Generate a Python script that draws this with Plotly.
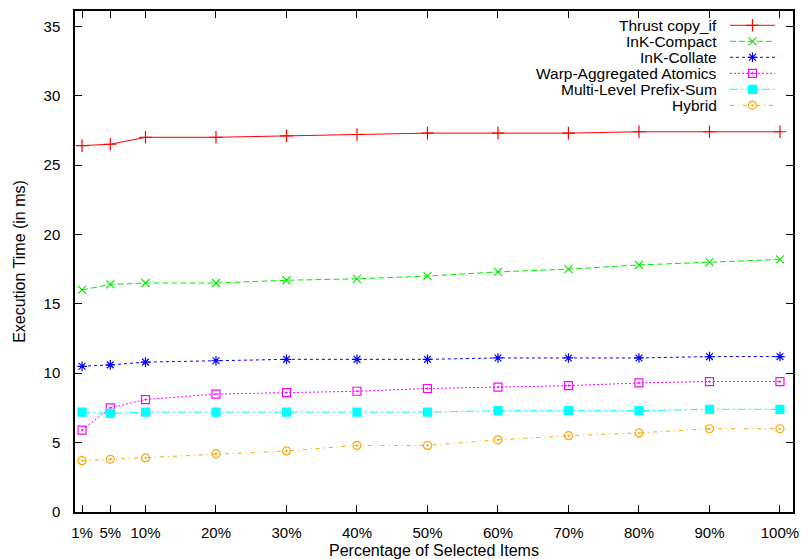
import plotly.graph_objects as go

x_vals = [1, 5, 10, 20, 30, 40, 50, 60, 70, 80, 90, 100]
x_labels = ["1%", "5%", "10%", "20%", "30%", "40%", "50%", "60%", "70%", "80%", "90%", "100%"]

thrust = [26.4, 26.5, 27.0, 27.0, 27.1, 27.2, 27.3, 27.3, 27.3, 27.4, 27.4, 27.4]
ink_compact = [16.0, 16.4, 16.5, 16.5, 16.7, 16.8, 17.0, 17.3, 17.5, 17.8, 18.0, 18.2]
ink_collate = [10.5, 10.6, 10.8, 10.9, 11.0, 11.0, 11.0, 11.1, 11.1, 11.1, 11.2, 11.2]
warp_atomics = [5.9, 7.5, 8.1, 8.5, 8.6, 8.7, 8.9, 9.0, 9.1, 9.3, 9.4, 9.4]
multi_prefix = [7.2, 7.1, 7.2, 7.2, 7.2, 7.2, 7.2, 7.3, 7.3, 7.3, 7.4, 7.4]
hybrid = [3.7, 3.8, 3.9, 4.2, 4.4, 4.8, 4.8, 5.2, 5.5, 5.7, 6.0, 6.0]

series_names = ["Thrust copy_if", "InK-Compact", "InK-Collate",
                "Warp-Aggregated Atomics", "Multi-Level Prefix-Sum", "Hybrid"]
series_data = [thrust, ink_compact, ink_collate, warp_atomics, multi_prefix, hybrid]
colors = ["#ff0000", "#00ee00", "#0000ff", "#ff00ff", "#00ffff", "#ffa500"]
dashes = ["solid", "6px,3px", "3px,3px", "2px,2px", "8px,3px,2px,3px", "4px,4px,1px,4px"]
symbols = ["cross-thin", "x-thin", "asterisk-open", "square-open-dot", "square", "circle-open-dot"]
msizes = [9, 8, 8, 8, 8, 8]

FONT = "Liberation Sans, Arial, sans-serif"

fig = go.Figure()
for name, ys, c, d, s, ms in zip(series_names, series_data, colors, dashes, symbols, msizes):
    fig.add_trace(go.Scatter(
        x=x_vals, y=ys, mode="lines+markers", name=name, showlegend=False,
        line=dict(color=c, width=1, dash=d),
        marker=dict(symbol=s, size=ms, color=c, line=dict(color=c, width=1.2)),
    ))

# Gnuplot-style key (text right, sample on the right), drawn on a pixel overlay axis
L, R, T, B = 75, 793, 10.7, 511.7
row_y = [25, 41, 57, 73, 89, 105]
for i, (name, c, d, s, ms) in enumerate(zip(series_names, colors, dashes, symbols, msizes)):
    y = row_y[i]
    fig.add_trace(go.Scatter(
        x=[730, 775], y=[y, y], xaxis="x2", yaxis="y2", mode="lines",
        line=dict(color=c, width=1, dash=d), showlegend=False, hoverinfo="skip"))
    fig.add_trace(go.Scatter(
        x=[752.5], y=[y], xaxis="x2", yaxis="y2", mode="markers",
        marker=dict(symbol=s, size=ms, color=c, line=dict(color=c, width=1.2)),
        showlegend=False, hoverinfo="skip"))
    fig.add_annotation(x=719, y=y, xref="x2", yref="y2", text=name, showarrow=False,
                       xanchor="right", yanchor="middle",
                       font=dict(family=FONT, size=15.5, color="#000000"))

axis_common = dict(
    showline=True, linecolor="#000000", linewidth=1.5, mirror="ticks",
    ticks="inside", ticklen=7, tickwidth=1, tickcolor="#000000",
    showgrid=False, zeroline=False, automargin=False,
    tickfont=dict(family=FONT, size=15, color="#000000"),
)

fig.update_layout(
    width=801, height=559,
    margin=dict(l=L, r=801 - R, t=T, b=559 - B),
    paper_bgcolor="#ffffff", plot_bgcolor="#ffffff",
    font=dict(family=FONT, color="#000000"),
    xaxis=dict(range=[0, 101.85], tickvals=x_vals, ticktext=x_labels,
               ticklabelstandoff=6,
               title=dict(text="Percentage of Selected Items",
                          font=dict(family=FONT, size=16), standoff=8),
               **axis_common),
    yaxis=dict(range=[0, 36.1], tickvals=[0, 5, 10, 15, 20, 25, 30, 35],
               ticklabelstandoff=10,
               title=dict(text="Execution Time (in ms)",
                          font=dict(family=FONT, size=16), standoff=14),
               **axis_common),
    xaxis2=dict(overlaying="x", range=[L, R], visible=False, fixedrange=True),
    yaxis2=dict(overlaying="y", range=[B, T], visible=False, fixedrange=True),
)

fig.write_html("out.html")
